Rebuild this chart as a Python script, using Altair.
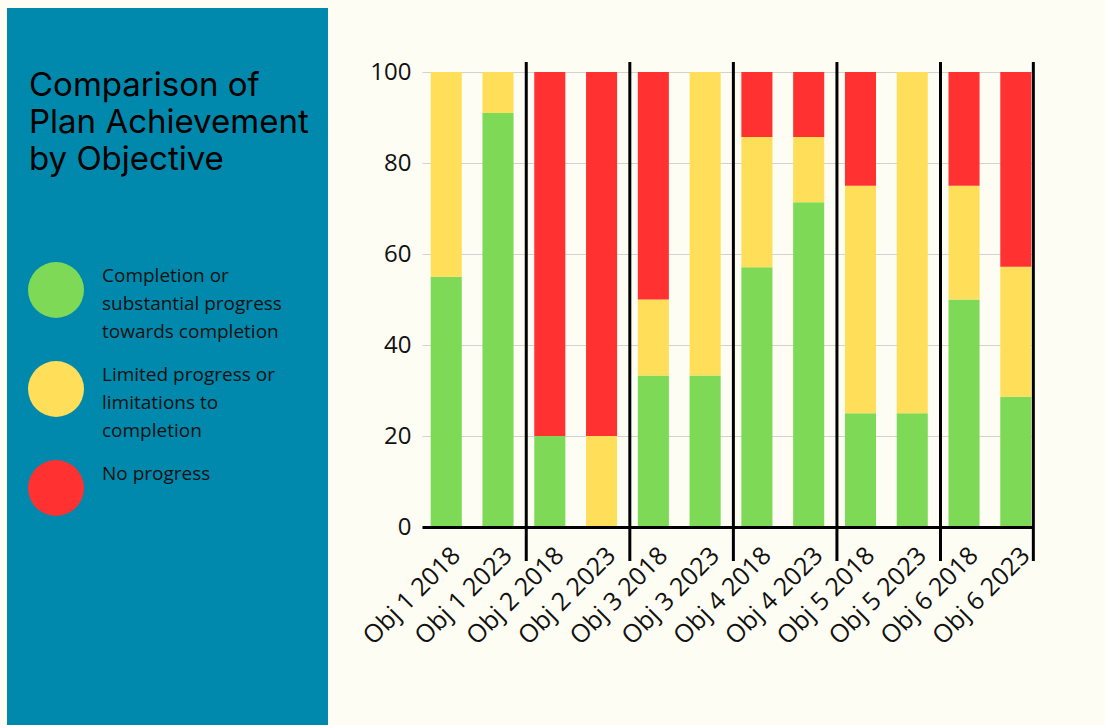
import json
import altair as alt
import pandas as pd

# ---- data ----
objectives = ["Obj 1", "Obj 2", "Obj 3", "Obj 4", "Obj 5", "Obj 6"]
years = ["2018", "2023"]
categories = [f"{o} {y}" for o in objectives for y in years]

statuses = [
    "Completion or substantial progress towards completion",
    "Limited progress or limitations to completion",
    "No progress",
]
status_lines = [
    ["Completion or", "substantial progress", "towards completion"],
    ["Limited progress or", "limitations to", "completion"],
    ["No progress"],
]
status_colors = ["#7ed957", "#ffde59", "#ff3131"]

completion = [55, 91, 20, 0, 33.3, 33.3, 57.1, 71.4, 25, 25, 50, 28.6]
limited = [45, 9, 0, 20, 16.7, 66.7, 28.6, 14.3, 50, 75, 25, 28.6]
no_progress = [0, 0, 80, 80, 50, 0, 14.3, 14.3, 25, 0, 25, 42.8]

title_lines = ["Comparison of", "Plan Achievement", "by Objective"]
y_ticks = [0, 20, 40, 60, 80, 100]

# ---- long table ----
rows = []
for i, cat in enumerate(categories):
    for rank, (status, series) in enumerate(zip(statuses, [completion, limited, no_progress])):
        if series[i] > 0:
            rows.append({"category": cat, "status": status, "value": series[i], "rank": rank})
df = pd.DataFrame(rows)

group_starts = pd.DataFrame({"category": [f"{o} {years[0]}" for o in objectives[1:]]})
group_end = pd.DataFrame({"category": [categories[-1]]})

label_map = json.dumps(dict(zip(statuses, status_lines)))

PAD_L, PAD_T = 422, 72
W, H = 611, 455

x_enc = alt.X(
    "category:N",
    sort=categories,
    scale=alt.Scale(domain=categories, paddingInner=0.4, paddingOuter=0.1, align=0.84),
    axis=alt.Axis(
        title=None, labelAngle=-45, labelAlign="right", labelBaseline="middle",
        labelFont="Open Sans", labelFontSize=25, labelColor="#111111",
        labelOffset=10, labelPadding=24, ticks=False, domainColor="#000000",
        domainWidth=3, grid=False, zindex=1, labelLimit=300,
    ),
)

bars = alt.Chart(df).mark_bar().encode(
    x=x_enc,
    y=alt.Y(
        "value:Q", stack="zero",
        scale=alt.Scale(domain=[0, 100], nice=False),
        axis=alt.Axis(
            title=None, values=y_ticks, domain=False, ticks=False,
            gridColor="#d2d2d2", gridWidth=1, labelFont="Open Sans",
            labelFontSize=24, labelColor="#111111", labelPadding=11,
        ),
    ),
    color=alt.Color(
        "status:N",
        scale=alt.Scale(domain=statuses, range=status_colors),
        legend=alt.Legend(
            orient="none", legendX=28 - PAD_L, legendY=262 - PAD_T, title=None,
            direction="vertical", symbolType="circle", symbolSize=3136,
            symbolStrokeWidth=0, symbolOpacity=1, labelFont="Open Sans",
            labelFontSize=19, labelColor="#111111", labelOffset=18,
            labelBaseline="line-bottom",
            labelLimit=400, rowPadding=19, padding=0,
            labelExpr=f"{label_map}[datum.label]",
        ),
    ),
    order=alt.Order("rank:Q"),
)

panel = alt.Chart(alt.Data(values=[{}])).mark_rect(color="#0089ad").encode(
    x=alt.value(7 - PAD_L), x2=alt.value(328 - PAD_L),
    y=alt.value(8 - PAD_T), y2=alt.value(725 - PAD_T),
)

title = alt.Chart(alt.Data(values=[{}])).mark_text(
    text=title_lines, font="Inter", fontSize=33, lineHeight=37,
    align="left", baseline="alphabetic", color="#000000",
).encode(x=alt.value(29 - PAD_L), y=alt.value(96 - PAD_T))

seps = alt.Chart(group_starts).mark_rule(color="#000000", strokeWidth=3, xOffset=-8).encode(
    x=alt.X("category:N", sort=categories, bandPosition=0),
    y=alt.value(-10), y2=alt.value(489),
)
sep_end = alt.Chart(group_end).mark_rule(color="#000000", strokeWidth=3, xOffset=2).encode(
    x=alt.X("category:N", sort=categories, bandPosition=1),
    y=alt.value(-10), y2=alt.value(489),
)

chart = alt.layer(panel, bars, seps, sep_end, title).properties(
    width=W, height=H,
    autosize=alt.AutoSizeParams(type="none"),
    padding={"left": PAD_L, "top": PAD_T, "right": 1105 - PAD_L - W, "bottom": 725 - PAD_T - H},
    background="#fdfdf4",
).configure(style={"guide-label": {"lineHeight": 28}}).configure_view(stroke=None)

chart.save("out.html", embed_options={"renderer": "svg", "actions": False})
